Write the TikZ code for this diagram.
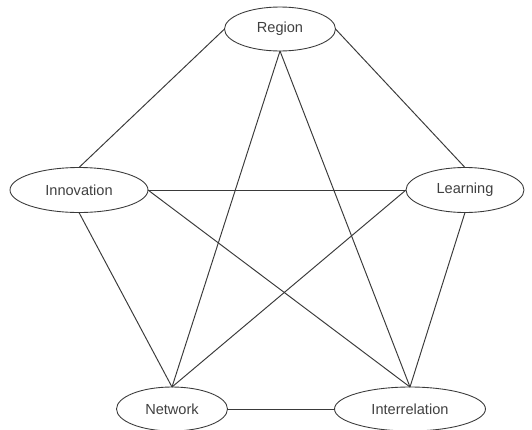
\documentclass[tikz,border=0pt]{standalone}
\usepackage{fontspec}
\setmainfont{Liberation Sans}
\usetikzlibrary{shapes.geometric}
\definecolor{edgegray}{HTML}{3A3A3A}
\begin{document}
\begin{tikzpicture}[x=0.02cm,y=-0.02cm,inner sep=0pt,outer sep=0pt,line width=0.5pt,
concept/.style={draw=edgegray,ellipse,minimum height=0.9cm,font=\fontsize{8.3}{10}\selectfont,text=black!75},
link/.style={draw=edgegray,line width=0.55pt}]
\useasboundingbox (0,0) rectangle (532,430);
\draw (280,29) node[concept,minimum width=2.22cm,minimum height=0.88cm] (region) {Region};
\draw (79,190) node[concept,minimum width=2.76cm] (innov) {Innovation};
\draw (465,190) node[concept,minimum width=2.36cm] (learn) {Learning};
\draw (172,409) node[concept,minimum width=2.22cm,minimum height=0.88cm] (network) {Network};
\draw (410,409) node[concept,minimum width=3.02cm,minimum height=0.88cm] (interrel) {Interrelation};
\draw[link] (region.west) -- (innov.north);
\draw[link] (region.east) -- (learn.north);
\draw[link] (region.south) -- (network.north);
\draw[link] (region.south) -- (interrel.north);
\draw[link] (innov.east) -- (learn.west);
\draw[link] (innov.east) -- (interrel.north);
\draw[link] (innov.south) -- (network.north);
\draw[link] (learn.west) -- (network.north);
\draw[link] (learn.south) -- (interrel.north);
\draw[link] (network.east) -- (interrel.west);
\end{tikzpicture}
\end{document}
